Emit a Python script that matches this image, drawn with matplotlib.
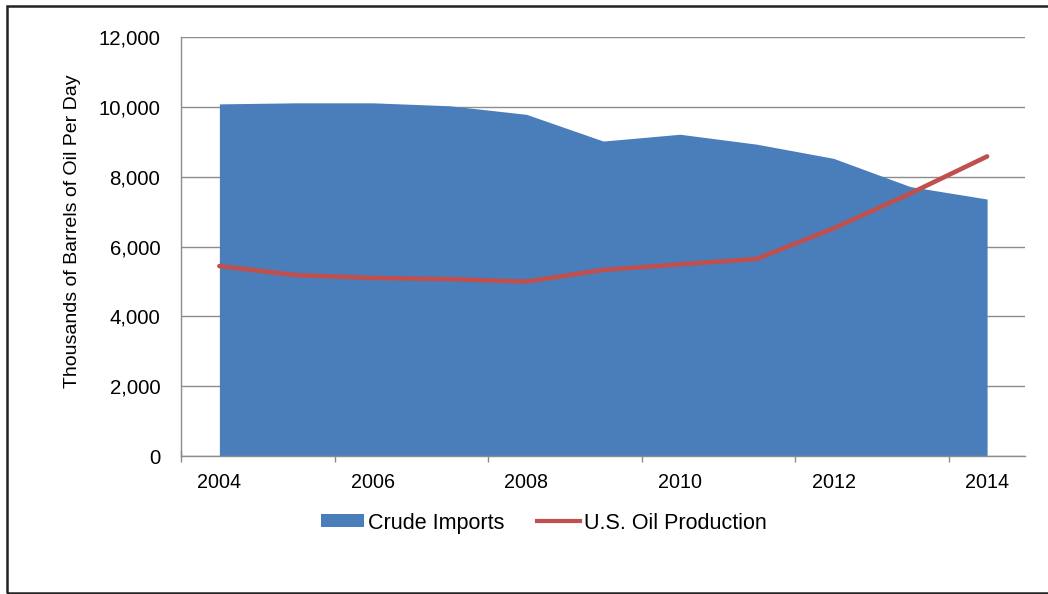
import numpy as np
import matplotlib
matplotlib.use("Agg")
import matplotlib.pyplot as plt
from matplotlib.patches import Rectangle
from matplotlib.lines import Line2D

years = [2004, 2005, 2006, 2007, 2008, 2009, 2010, 2011, 2012, 2013, 2014]
crude_imports = [10085, 10115, 10115, 10030, 9785, 9020, 9215, 8930, 8525, 7715, 7360]
us_production = [5440, 5180, 5100, 5065, 4995, 5330, 5490, 5645, 6520, 7520, 8580]
year_labels = ["2004", "2006", "2008", "2010", "2012", "2014"]
y_ticks = [0, 2000, 4000, 6000, 8000, 10000, 12000]

blue = "#4A7EBB"
red = "#C0504D"
grey = "#8C8C8C"

plt.rcParams["font.family"] = ["Liberation Sans", "DejaVu Sans"]

fig = plt.figure(figsize=(10.48, 5.94), dpi=100)
ax = fig.add_axes([0.1727, 0.2323, 0.8058, 0.7054])

x = np.arange(len(years))
ax.fill_between(x, 0, crude_imports, color=blue, linewidth=0, zorder=2)
ax.plot(x, us_production, color=red, linewidth=3.3, solid_capstyle="round", zorder=3)

ax.set_xlim(-0.5, len(years) - 0.5)
ax.set_ylim(0, 12000)
ax.set_yticks(y_ticks)
ax.set_yticklabels([f"{v:,}" for v in y_ticks])
ax.yaxis.grid(True, color=grey, linewidth=1.0, zorder=1)
ax.set_axisbelow(True)

# ticks between categories, labels on every second year
ax.set_xticks(np.arange(-0.5, len(years) - 1, 2))
ax.set_xticklabels([])
ax.set_xticks(x[::2], minor=True)
ax.set_xticklabels(year_labels, minor=True)
ax.tick_params(axis="x", which="major", direction="inout", length=8, color=grey, width=1)
ax.tick_params(axis="x", which="minor", length=0, pad=12, labelsize=14.2)
ax.tick_params(axis="y", length=0, pad=15, labelsize=14.7)

for side in ["top", "right"]:
    ax.spines[side].set_visible(False)
for side in ["left", "bottom"]:
    ax.spines[side].set_color(grey)
    ax.spines[side].set_linewidth(1.0)

fig.text(73 / 1048, 0.610, "Thousands of Barrels of Oil Per Day", rotation=90,
         ha="center", va="center", fontsize=14)

handles = [Rectangle((0, 0), 1, 1, facecolor=blue, edgecolor="none"),
           Line2D([0], [0], color=red, linewidth=3.0)]
fig.legend(handles, ["Crude Imports", "U.S. Oil Production"], ncol=2,
           loc="center", bbox_to_anchor=(544 / 1048, 0.1195), frameon=False,
           fontsize=15.5, handlelength=2.0, handleheight=0.55, handletextpad=0.2,
           columnspacing=1.5)

# outer frame
fig.add_artist(Rectangle((7 / 1048, 0.0022), 1.1, 0.988, transform=fig.transFigure,
                         fill=False, edgecolor="#222222", linewidth=1.8, clip_on=False))

fig.savefig("out.png", dpi=100)
